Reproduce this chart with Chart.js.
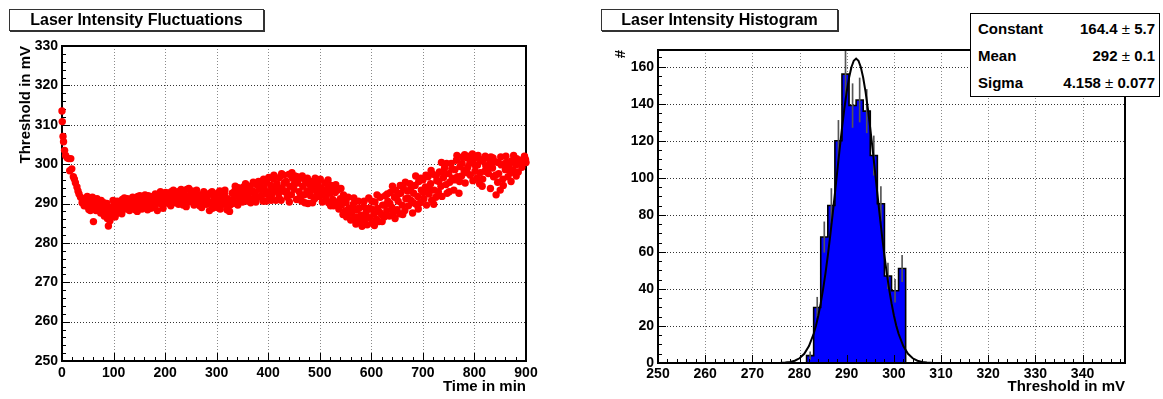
<!DOCTYPE html>
<html><head><meta charset="utf-8">
<script src="https://cdn.jsdelivr.net/npm/chart.js@4.4.1/dist/chart.umd.min.js"></script>
<style>
html,body{margin:0;padding:0;background:#fff;}
body{width:1163px;height:399px;position:relative;overflow:hidden;font-family:'Liberation Sans',Arial,Helvetica,sans-serif;}
canvas{position:absolute;top:0;}
#cL{left:0;width:580px;height:399px;}
#cR{left:580px;width:583px;height:399px;}
.tbox{position:absolute;top:9px;height:22px;box-sizing:border-box;border:1px solid #333;box-shadow:1px 1px 0 #333;background:#fff;font-weight:bold;font-size:16px;line-height:20px;text-align:center;color:#000;white-space:nowrap;}
#stats{position:absolute;left:970px;top:13px;width:190px;height:84px;box-sizing:border-box;border:1px solid #000;background:#fff;font-weight:bold;font-size:15px;color:#000;}
.row{position:absolute;left:7px;right:4px;height:22px;line-height:22px;white-space:nowrap;}
.row .k{position:absolute;left:0;top:0;}
.row .v{position:absolute;right:0;top:0;}
.pm{font-weight:normal;}
</style></head>
<body>
<canvas id="cL" width="580" height="399"></canvas>
<canvas id="cR" width="583" height="399"></canvas>
<div class="tbox" style="left:9px;width:255px;">Laser Intensity Fluctuations</div>
<div class="tbox" style="left:601px;width:237px;">Laser Intensity Histogram</div>
<div id="stats">
  <div class="row" style="top:4px;"><span class="k">Constant</span><span class="v">164.4 <span class="pm">±</span> 5.7</span></div>
  <div class="row" style="top:31px;"><span class="k">Mean</span><span class="v">292 <span class="pm">±</span> 0.1</span></div>
  <div class="row" style="top:58px;"><span class="k">Sigma</span><span class="v">4.158 <span class="pm">±</span> 0.077</span></div>
</div>
<script>
// ---------- Left panel data: threshold vs. time ----------
const timeMin = [0,0.5,2,3,5,7,10,13,15,17,
19,22,24,26,29,31,33,36,39,41,
43,45,47,50,52,54,57,59,61,63,
66,68,70,72,75,77,79,81,84,86,
88,90,92,94,96,98,100,103,105,107,
110,112,115,117,120,122,125,127,130,132,
135,137,140,142,145,147,150,152,155,157,
160,162,165,167,170,172,175,177,180,182,
185,187,190,192,195,197,200,202,205,207,
210,212,215,217,220,222,225,227,230,232,
235,237,240,242,245,247,250,252,255,257,
260,262,265,267,270,272,275,277,280,282,
285,287,290,292,295,297,300,302,305,307,
310,312,315,317,320,322,325,327,330,332,
335,337,340,342,345,347,350,352,355,357,
360,362,365,367,370,372,375,377,380,382,
385,387,390,392,395,397,400,402,405,407,
410,412,415,417,420,422,425,427,430,432,
435,437,440,442,445,447,450,452,455,457,
460,462,465,467,470,472,475,477,480,482,
485,487,490,492,495,497,500,502,505,507,
510,512,515,517,520,522,525,527,530,532,
535,537,540,542,545,547,550,552,555,557,
560,562,565,567,570,572,575,577,580,582,
585,587,590,592,595,597,600,602,605,607,
610,612,615,617,620,622,625,627,630,632,
635,637,640,642,645,647,650,652,655,657,
660,662,665,667,670,672,675,677,680,682,
685,687,690,692,695,697,700,702,705,707,
710,712,715,717,720,722,725,727,730,732,
735,737,740,742,745,747,750,752,755,757,
760,762,765,767,770,772,775,777,780,782,
785,787,790,792,795,797,800,802,805,807,
810,812,815,817,820,822,825,827,830,832,
835,837,840,842,845,847,850,852,855,857,
860,862,865,867,870,872,875,877,880,882,
885,887,890,892,895,897,899,900,
44,49,55,60,65,71,76,82,87,93,99,104,
111,116,121,126,131, 136,141,146,151,156,
161,166,171,176,181, 186,191,196,201,206,
211,216,221,226,231, 236,241,246,251,256,
261,266,271,276,281, 286,291,296,301,306,
311,316,321,326,331, 336,341,346,351,356,
361,366,371,376,381, 386,391,396,401,406,
411,416,421,426,431, 436,441,446,451,456,
461,466,471,476,481, 486,491,496,501,506,
511,516,521,526,531, 536,541,546,551,556,
561,566,571,576,581, 586,591,596,601,606,
611,616,621,626,631, 636,641,646,651,656,
661,666,671,676,681, 686,691,696,701,706,
711,716,721,726,731, 736,741,746,751,756,
761,766,771,776,781, 786,791,796,801,806,
811,816,821,826,831, 836,841,846,851,856,
861,866,871,876,881];

const thresholdMV = [313.5,310.8,307.0,305.7,303.5,302.2,301.6,301.4,298.3,301.4,
298.8,296.8,296.2,295.3,294.2,293.2,292.4,291.6,290.2,291.2,
289.4,291.0,289.4,290.6,288.5,290.9,289.0,291.6,285.4,289.8,
288.2,291.2,289.0,290.4,287.6,289.5,288.0,290.2,287.0,288.6,
286.2,284.3,287.4,289.0,286.8,288.2,289.4,286.6,288.8,290.6,
287.8,289.6,288.4,291.0,289.2,290.4,288.6,291.2,289.6,290.8,
288.8,291.6,289.9,288.4,290.6,291.8,289.4,290.9,288.6,290.2,
291.4,289.0,290.6,292.0,289.8,288.8,290.6,291.4,289.4,290.8,
288.2,291.6,292.0,289.9,291.0,292.4,290.2,291.4,292.6,290.0,
291.8,293.0,290.8,292.2,290.2,291.6,293.0,290.8,292.2,291.0,
289.6,292.6,291.2,293.6,290.4,292.0,291.0,293.2,290.2,291.8,
292.8,290.6,291.6,289.4,292.2,290.6,293.0,291.2,289.8,291.8,
290.4,292.6,290.0,288.8,291.4,289.6,291.0,292.6,290.2,288.6,
291.6,289.8,292.4,290.6,288.4,289.6,288.0,290.8,292.6,291.0,
293.2,290.2,292.0,294.0,291.4,292.8,290.4,294.2,291.8,293.4,
290.6,292.6,294.4,291.2,293.2,290.8,292.4,294.8,291.6,293.6,
295.2,292.0,290.6,294.0,292.4,295.4,293.0,291.0,294.6,292.2,
296.2,293.4,290.8,295.0,292.6,296.6,290.8,294.0,297.2,293.0,
295.6,291.6,297.4,294.4,292.2,296.4,293.6,297.0,291.0,295.2,
293.0,296.4,290.6,294.4,292.2,295.8,293.2,290.0,294.8,292.0,
295.6,293.6,291.2,294.2,292.6,295.4,291.8,294.0,290.4,293.2,
295.2,291.6,293.8,290.2,292.6,294.6,291.0,289.4,292.8,290.4,
293.4,288.6,291.2,289.6,287.2,290.6,288.2,286.6,291.6,288.8,
285.8,287.6,289.8,286.2,284.8,288.4,290.6,285.4,287.0,284.2,
289.2,285.8,287.8,284.6,291.4,286.4,288.6,285.0,287.4,290.4,
286.0,288.8,285.4,291.6,287.2,289.6,286.6,292.0,288.2,290.6,
286.8,292.8,289.0,287.6,291.6,293.4,288.4,290.6,287.4,292.6,
289.6,294.0,288.2,291.2,293.2,289.4,295.0,290.8,287.6,292.6,
294.6,289.8,291.8,295.6,290.2,293.4,296.0,291.2,294.2,289.6,
296.8,292.4,295.0,290.8,297.4,293.4,291.6,295.8,293.0,298.0,
294.4,291.8,296.6,299.0,294.8,292.6,297.6,295.4,300.2,296.4,
293.4,298.6,301.0,296.8,292.6,299.4,297.0,301.8,298.4,295.2,
301.6,299.2,302.0,297.2,300.6,295.8,301.4,299.6,296.4,302.2,
295.0,300.8,294.4,301.2,298.2,299.6,301.6,297.6,300.4,301.8,
299.0,296.8,300.6,292.2,295.4,297.6,293.4,299.8,296.2,300.0,
298.6,300.4,296.8,299.4,297.8,300.8,298.4,301.4,299.8,301.4,
298.0,300.2,301.0,299.2,300.8,302.0,301.2,300.4,
290.2,291.8,288.2,290.0,291.0,288.6,290.8,286.8,290.0,285.6,290.8,287.2,
290.2,287.4,291.4,290.0,288.2, 290.4,291.2,288.0,292.0,291.0,
292.2,288.4,291.8,289.0,292.4, 290.2,293.0,288.8,292.8,291.0,
289.4,293.4,292.0,289.8,293.6, 291.6,289.2,293.8,292.4,289.6,
293.4,290.8,289.0,292.4,290.2, 288.2,293.0,292.0,289.0,293.2,
290.6,293.4,291.2,289.6,290.0, 294.4,289.6,293.6,292.6,295.0,
293.6,290.2,295.4,290.4,295.6, 293.6,296.2,290.6,296.6,290.8,
297.2,293.8,291.4,297.6,295.2, 293.0,290.4,297.8,295.0,296.8,
291.4,297.0,290.2,296.4,293.0, 290.2,296.4,293.8,296.2,292.4,
293.0,296.0,289.4,293.8,294.8, 290.0,293.8,292.2,290.2,287.4,
288.6,291.4,286.6,288.8,285.8, 290.6,286.4,288.8,290.6,284.4,
292.2,287.8,285.4,289.6,292.4, 290.0,294.4,286.2,292.2,294.6,
287.2,295.4,291.4,293.6,290.2, 297.0,288.6,296.4,292.8,297.2,
293.8,298.4,289.8,297.0,295.6, 300.4,297.4,300.2,293.0,298.8,
296.0,302.2,295.6,300.2,302.4, 297.8,300.2,302.6,298.2,299.8,
297.8,296.2,302.0,299.0,293.8, 301.6,297.2,300.4,301.8,294.6,
302.0,299.8,295.6,302.2,297.0];

const timeTicks = [0,100,200,300,400,500,600,700,800,900];
const thresholdTicks = [250,260,270,280,290,300,310,320,330];

// ---------- Right panel data: histogram + gaussian fit ----------
const binEdges  = [281.5,283,284.5,286,287.5,289,290.5,292,293.5,295,296.5,298,299.5,301,302.5];
const binCounts = [4,30,68,85,120,156,139,142,136,112,86,47,39,51];
const binErrors = [2.0,5.5,8.2,9.2,11.0,12.5,11.8,11.9,11.7,10.6,9.3,6.9,6.2,7.1];

const fitX = [274,275,276,277,278,279,280,281,282,
283,283.5,284,284.5,285,285.5,286,286.5,287,287.5,288,288.5,289,289.5,290,290.5,291,291.5,292,
292.5,293,293.5,294,294.5,295,295.5,296,296.5,297,297.5,298,298.5,299,299.5,300,300.5,301,
302,303,304,305,306,307,308,309,310];
const fitY = [0.01,0.04,0.10,0.25,0.57,1.24,2.55,4.97,9.12,
15.8,20.3,25.8,32.3,39.9,48.4,58.0,68.5,79.8,91.5,103.5,115.4,126.7,137.2,146.4,154.0,159.7,163.2,164.4,
163.2,159.7,154.0,146.4,137.2,126.7,115.4,103.5,91.5,79.8,68.5,58.0,48.4,39.9,32.3,25.8,20.3,15.8,
9.12,4.97,2.55,1.24,0.57,0.25,0.10,0.04,0.01];

const histTicksX = [250,260,270,280,290,300,310,320,330,340];
const histTicksY = [0,20,40,60,80,100,120,140,160];

// ---------- Styling helpers ----------
const FONT = "'Liberation Sans', Arial, Helvetica, sans-serif";
const fontTick = {family: FONT, size: 14, weight: 'bold'};
const fontTitle = {family: FONT, size: 15, weight: 'bold'};

function drawAxes(chart, o) {
  const ctx = chart.ctx, a = chart.chartArea, xs = chart.scales.x, ys = chart.scales.y;
  ctx.save();
  ctx.strokeStyle = '#000'; ctx.lineWidth = 1; ctx.setLineDash([]);
  ctx.beginPath();
  for (let v = xs.min; v <= xs.max + 1e-6; v += o.xMinor) {
    const p = Math.round(xs.getPixelForValue(v)) + 0.5;
    ctx.moveTo(p, a.bottom); ctx.lineTo(p, a.bottom - o.minorLen);
  }
  o.xMajor.forEach(v => {
    const p = Math.round(xs.getPixelForValue(v)) + 0.5;
    ctx.moveTo(p, a.bottom); ctx.lineTo(p, a.bottom - o.majorLen);
  });
  for (let v = ys.min; v <= ys.max + 1e-6; v += o.yMinor) {
    const p = Math.round(ys.getPixelForValue(v)) + 0.5;
    ctx.moveTo(a.left, p); ctx.lineTo(a.left + o.minorLen, p);
  }
  o.yMajor.forEach(v => {
    const p = Math.round(ys.getPixelForValue(v)) + 0.5;
    ctx.moveTo(a.left, p); ctx.lineTo(a.left + o.majorLen, p);
  });
  ctx.stroke();
  ctx.lineWidth = 2;
  ctx.strokeRect(a.left, a.top, a.right - a.left, a.bottom - a.top);
  ctx.restore();
}

const rootFrame = {
  id: 'rootFrame',
  beforeDatasetsDraw(chart, args, o) {
    const ctx = chart.ctx, a = chart.chartArea, xs = chart.scales.x, ys = chart.scales.y;
    ctx.save();
    ctx.lineWidth = 1;
    ctx.setLineDash([1, 2]);
    ctx.strokeStyle = o.vGrid;
    o.xMajor.forEach(v => {
      const p = Math.round(xs.getPixelForValue(v)) + 0.5;
      if (p <= a.left + 2 || p >= a.right - 2) return;
      ctx.beginPath(); ctx.moveTo(p, a.top); ctx.lineTo(p, a.bottom); ctx.stroke();
    });
    ctx.strokeStyle = o.hGrid;
    o.yMajor.forEach(v => {
      const p = Math.round(ys.getPixelForValue(v)) + 0.5;
      if (p <= a.top + 2 || p >= a.bottom - 2) return;
      ctx.beginPath(); ctx.moveTo(a.left, p); ctx.lineTo(a.right, p); ctx.stroke();
    });
    ctx.restore();
    if (!o.onTop) drawAxes(chart, o);
  },
  afterDatasetsDraw(chart, args, o) {
    if (o.onTop) drawAxes(chart, o);
  }
};

// ---------- Left chart ----------
new Chart(document.getElementById('cL'), {
  type: 'scatter',
  data: {
    datasets: [{
      data: timeMin.map((t, i) => ({x: t, y: thresholdMV[i]})),
      pointRadius: 3.7, pointHoverRadius: 3.7, pointStyle: 'circle',
      backgroundColor: '#ff0000', borderWidth: 0, clip: false, showLine: false
    }]
  },
  options: {
    responsive: false, animation: false, events: [],
    layout: {padding: {top: 46, right: 54, bottom: 0, left: 0}},
    plugins: {
      legend: {display: false}, tooltip: {enabled: false},
      rootFrame: {xMajor: timeTicks, yMajor: thresholdTicks, xMinor: 20, yMinor: 2,
                  majorLen: 8, minorLen: 4, vGrid: '#8a8a8a', hGrid: '#333', onTop: false}
    },
    scales: {
      x: {
        type: 'linear', min: 0, max: 900, offset: false,
        afterBuildTicks: s => { s.ticks = timeTicks.map(v => ({value: v})); },
        afterFit: s => { s.height = 38; },
        grid: {display: false, drawTicks: false}, border: {display: false},
        ticks: {font: fontTick, color: '#000', padding: 4, maxRotation: 0, autoSkip: false},
        title: {display: true, text: 'Time in min', align: 'end', font: fontTitle, color: '#000', padding: {top: 0, bottom: 3}}
      },
      y: {
        type: 'linear', min: 250, max: 330,
        afterBuildTicks: s => { s.ticks = thresholdTicks.map(v => ({value: v})); },
        afterFit: s => { s.width = 62; },
        grid: {display: false, drawTicks: false}, border: {display: false},
        ticks: {font: fontTick, color: '#000', padding: 4, autoSkip: false},
        title: {display: true, text: 'Threshold in mV', align: 'end', font: fontTitle, color: '#000', padding: {top: 17, bottom: 0}}
      }
    }
  },
  plugins: [rootFrame]
});

// ---------- Right chart ----------
const histOutline = [{x: 250, y: 0}]
  .concat(binCounts.map((n, i) => ({x: binEdges[i], y: n})))
  .concat([{x: binEdges[binEdges.length - 1], y: 0}, {x: 349, y: 0}]);
const errorBars = binCounts.map((n, i) => ({
  x: (binEdges[i] + binEdges[i + 1]) / 2,
  y: [n - binErrors[i], n + binErrors[i]]
}));

new Chart(document.getElementById('cR'), {
  type: 'line',
  data: {
    datasets: [
      {
        type: 'line', data: histOutline, stepped: 'before', fill: 'origin',
        backgroundColor: '#0000ff', borderColor: '#000', borderWidth: 1.6,
        pointRadius: 0, tension: 0, order: 3
      },
      {
        type: 'bar', data: errorBars, backgroundColor: '#555', borderWidth: 0,
        barThickness: 1, order: 2
      },
      {
        type: 'line', data: fitX.map((x, i) => ({x: x, y: fitY[i]})),
        borderColor: '#000', borderWidth: 2, pointRadius: 0, tension: 0, fill: false, order: 1
      }
    ]
  },
  options: {
    responsive: false, animation: false, events: [],
    layout: {padding: {top: 50, right: 38, bottom: 0, left: 0}},
    plugins: {
      legend: {display: false}, tooltip: {enabled: false},
      rootFrame: {xMajor: histTicksX, yMajor: histTicksY, xMinor: 2, yMinor: 5,
                  majorLen: 8, minorLen: 4, vGrid: '#8a8a8a', hGrid: '#333', onTop: true}
    },
    scales: {
      x: {
        type: 'linear', min: 250, max: 349, offset: false,
        afterBuildTicks: s => { s.ticks = histTicksX.map(v => ({value: v})); },
        afterFit: s => { s.height = 36; },
        grid: {display: false, drawTicks: false}, border: {display: false},
        ticks: {font: fontTick, color: '#000', padding: 3, maxRotation: 0, autoSkip: false},
        title: {display: true, text: 'Threshold in mV', align: 'end', font: fontTitle, color: '#000', padding: {top: 0, bottom: 3}}
      },
      y: {
        type: 'linear', min: 0, max: 169,
        afterBuildTicks: s => { s.ticks = histTicksY.map(v => ({value: v})); },
        afterFit: s => { s.width = 78; },
        grid: {display: false, drawTicks: false}, border: {display: false},
        ticks: {font: fontTick, color: '#000', padding: 4, autoSkip: false},
        title: {display: true, text: '#', align: 'end', font: fontTitle, color: '#000', padding: {top: 32, bottom: 0}}
      }
    }
  },
  plugins: [rootFrame]
});
</script>
</body></html>
